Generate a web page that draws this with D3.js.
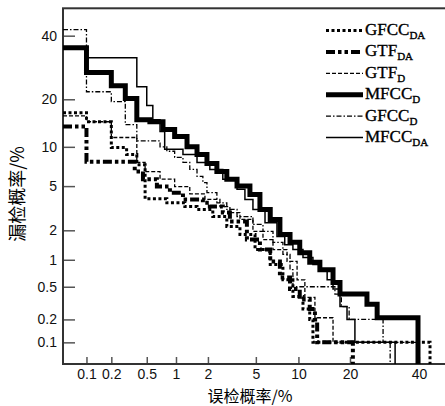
<!DOCTYPE html>
<html>
<head>
<meta charset="utf-8">
<script src="https://cdn.jsdelivr.net/npm/d3@7"></script>
<style>
  body { margin: 0; background: #fff; }
</style>
</head>
<body>
<div id="chart"></div>
<script>
// tick labels (percent)
const xTicks = [0.1, 0.2, 0.5, 1, 2, 5, 10, 20, 40];
const yTicks = [0.1, 0.2, 0.5, 1, 2, 5, 10, 20, 40];

// legend names
const seriesNames = ["GFCC", "GTF", "GTF", "MFCC", "GFCC", "MFCC"];
const seriesSubs = ["DA", "DA", "D", "D", "D", "DA"];

// DET points: [false alarm %, miss %]
const gfccDA = [[0.05,16.7],[0.1,14.7],[0.2,9.9],[0.3,8.8],[0.39,7.4],[0.48,3.9],[0.81,3.6],[1.22,3.33],[1.59,3.14],[2.21,2.7],[2.92,2.18],[3.75,1.82],[4.93,1.28],[6.4,0.89],[7.87,0.6],[9.2,0.385],[10.7,0.27],[11.8,0.2],[12.35,0.1],[43.7,0.05]];
const gtfDA = [[0.05,13.7],[0.1,7.8],[0.37,6.55],[0.455,5.7],[0.64,4.96],[0.87,4.4],[1.17,3.85],[1.8,3.6],[2.08,3.33],[2.7,2.94],[3.1,2.43],[4.26,1.62],[5.37,1.28],[6.4,0.96],[7.5,0.64],[8.8,0.47],[10.2,0.354],[11.8,0.27],[12.7,0.2],[13.1,0.1],[20.7,0.05]];
const gtfD = [[0.05,16.0],[0.1,14.7],[0.2,11.6],[0.39,7.7],[0.48,6.55],[0.69,5.7],[0.97,4.96],[1.36,4.3],[1.88,3.85],[2.55,3.33],[3.1,2.94],[3.75,2.54],[4.75,1.95],[5.66,1.62],[6.7,1.28],[8.4,0.96],[9.8,0.6],[11.0,0.375],[12.7,0.21],[16.2,0.1],[39.7,0.05]];
const mfccD = [[0.05,35.8],[0.1,27.6],[0.2,23.7],[0.29,20.2],[0.39,15.1],[0.54,14.7],[0.74,13.1],[0.97,11.8],[1.28,10.0],[1.59,8.8],[1.96,7.55],[2.4,6.55],[2.92,5.7],[3.55,5.0],[4.5,4.25],[5.37,3.14],[6.4,2.54],[7.5,1.82],[8.8,1.52],[10.2,1.19],[11.8,0.94],[13.6,0.78],[16.2,0.56],[17.7,0.41],[24.3,0.31],[27.1,0.21],[39.7,0.05]];
const gfccD = [[0.05,42.2],[0.1,22.0],[0.2,19.4],[0.29,14.1],[0.39,11.0],[0.69,10.0],[0.81,9.3],[0.97,8.4],[1.17,7.7],[1.36,6.8],[1.59,6.0],[1.8,5.35],[1.96,4.4],[2.4,3.6],[2.92,3.14],[3.55,2.7],[4.75,2.28],[5.66,1.95],[6.7,1.52],[7.87,1.14],[8.8,0.78],[9.2,0.5],[16.6,0.41],[18.0,0.29],[19.8,0.2],[28.8,0.1],[30.9,0.05]];
const mfccDA = [[0.05,35.8],[0.1,32.4],[0.39,23.4],[0.5,18.4],[0.58,15.1],[0.69,12.7],[0.77,9.6],[1.17,8.8],[1.59,7.7],[2.08,6.8],[2.7,5.7],[3.55,4.7],[4.11,3.85],[4.75,3.14],[5.86,2.37],[7.15,1.74],[8.1,1.44],[9.2,1.28],[10.7,1.06],[12.35,0.89],[13.6,0.78],[15.0,0.6],[16.2,0.47],[17.7,0.29],[19.3,0.2],[21.2,0.1],[32.4,0.05]];

const seriesData = [gfccDA, gtfDA, gtfD, mfccD, gfccD, mfccDA];

// line styles, same order as legend
const styles = [
  { width: 3, dash: "3,2.5" },
  { width: 4, dash: "9,3,3.5,3,3.5,3" },
  { width: 1.3, dash: "4,2" },
  { width: 5, dash: null },
  { width: 1.3, dash: "5,2,1.5,2" },
  { width: 1.5, dash: null }
];

// inverse normal CDF (Acklam)
function probit(p) {
  const a = [-3.969683028665376e+01, 2.209460984245205e+02, -2.759285104469687e+02, 1.383577518672690e+02, -3.066479806614716e+01, 2.506628277459239e+00];
  const b = [-5.447609879822406e+01, 1.615858368580409e+02, -1.556989798598866e+02, 6.680131188771972e+01, -1.328068155288572e+01];
  const c = [-7.784894002430293e-03, -3.223964580411365e-01, -2.400758277161838e+00, -2.549732539343734e+00, 4.374664141464968e+00, 2.938163982698783e+00];
  const d = [7.784695709041462e-03, 3.224671290700398e-01, 2.445134137142996e+00, 3.754408661907416e+00];
  const pl = 0.02425;
  if (p < pl) {
    const q = Math.sqrt(-2 * Math.log(p));
    return (((((c[0]*q+c[1])*q+c[2])*q+c[3])*q+c[4])*q+c[5]) / ((((d[0]*q+d[1])*q+d[2])*q+d[3])*q+1);
  }
  if (p <= 1 - pl) {
    const q = p - 0.5, r = q * q;
    return (((((a[0]*r+a[1])*r+a[2])*r+a[3])*r+a[4])*r+a[5])*q / (((((b[0]*r+b[1])*r+b[2])*r+b[3])*r+b[4])*r+1);
  }
  const q = Math.sqrt(-2 * Math.log(1 - p));
  return -(((((c[0]*q+c[1])*q+c[2])*q+c[3])*q+c[4])*q+c[5]) / ((((d[0]*q+d[1])*q+d[2])*q+d[3])*q+1);
}

const W = 445, H = 406;
const plotLeft = 63, plotRight = 448.6, plotTop = 8.3, plotBottom = 364;

const svg = d3.select("#chart")
  .append("svg")
  .attr("width", W)
  .attr("height", H);

// Scales (normal deviate)
const xLin = d3.scaleLinear()
  .domain([probit(0.0005), 0])
  .range([plotLeft, plotRight]);

const yLin = d3.scaleLinear()
  .domain([probit(0.0005), 0])
  .range([plotBottom, plotTop]);

const px = v => xLin(probit(v / 100));
const py = v => yLin(probit(v / 100));

// Axes
const xAxis = svg.append("g")
  .attr("transform", `translate(0,${plotBottom})`)
  .call(d3.axisBottom(xLin)
    .tickValues(xTicks.map(v => probit(v / 100)))
    .tickFormat((d, i) => xTicks[i])
    .tickSizeInner(-7)
    .tickSizeOuter(0)
    .tickPadding(5));

const yAxis = svg.append("g")
  .attr("transform", `translate(${plotLeft},0)`)
  .call(d3.axisLeft(yLin)
    .tickValues(yTicks.map(v => probit(v / 100)))
    .tickFormat((d, i) => yTicks[i])
    .tickSizeInner(-12)
    .tickSizeOuter(0)
    .tickPadding(6));

[xAxis, yAxis].forEach(g => {
  g.select(".domain").remove();
  g.selectAll(".tick line").attr("stroke", "#555").attr("stroke-width", 1.5);
  g.selectAll(".tick text")
    .attr("fill", "#111")
    .style("font-family", "'Liberation Sans', Arial, sans-serif")
    .style("font-size", "14px");
});

// Frame
svg.append("rect")
  .attr("x", plotLeft)
  .attr("y", plotTop)
  .attr("width", plotRight - plotLeft)
  .attr("height", plotBottom - plotTop)
  .attr("fill", "none")
  .attr("stroke", "#333")
  .attr("stroke-width", 2);

// Curves
svg.append("clipPath")
  .attr("id", "plotClip")
  .append("rect")
  .attr("x", plotLeft)
  .attr("y", plotTop)
  .attr("width", plotRight - plotLeft)
  .attr("height", plotBottom - plotTop);

const line = d3.line()
  .curve(d3.curveStepAfter)
  .x(d => px(d[0]))
  .y(d => py(d[1]));

const curves = svg.append("g").attr("clip-path", "url(#plotClip)");

seriesData.forEach((s, i) => {
  curves.append("path")
    .datum(s)
    .attr("fill", "none")
    .attr("stroke", "#000")
    .attr("stroke-width", styles[i].width)
    .attr("stroke-dasharray", styles[i].dash)
    .attr("d", line);
});

// Legend
const legend = svg.append("g");
seriesNames.forEach((name, i) => {
  const base = 35 + i * 21.4;
  legend.append("line")
    .attr("x1", 326)
    .attr("x2", 363)
    .attr("y1", base - 4.5)
    .attr("y2", base - 4.5)
    .attr("stroke", "#000")
    .attr("stroke-width", styles[i].width)
    .attr("stroke-dasharray", styles[i].dash);
  const t = legend.append("text")
    .attr("x", 365)
    .attr("y", base)
    .style("font-family", "'Liberation Serif', 'Times New Roman', serif")
    .style("font-size", "17px")
    .attr("fill", "#000")
    .attr("stroke", "#000")
    .attr("stroke-width", 0.35);
  t.append("tspan").text(name);
  t.append("tspan")
    .attr("dy", 4)
    .style("font-size", "11px")
    .text(seriesSubs[i]);
});

// Axis titles
svg.append("text")
  .attr("x", 250)
  .attr("y", 401.5)
  .attr("text-anchor", "middle")
  .style("font-family", "'Noto Sans CJK SC', sans-serif")
  .style("font-size", "16px")
  .text("误检概率/%");

svg.append("text")
  .attr("transform", "rotate(-90)")
  .attr("x", -194)
  .attr("y", 24)
  .attr("text-anchor", "middle")
  .style("font-family", "'Noto Sans CJK SC', sans-serif")
  .style("font-size", "18px")
  .text("漏检概率/%");
</script>
</body>
</html>
